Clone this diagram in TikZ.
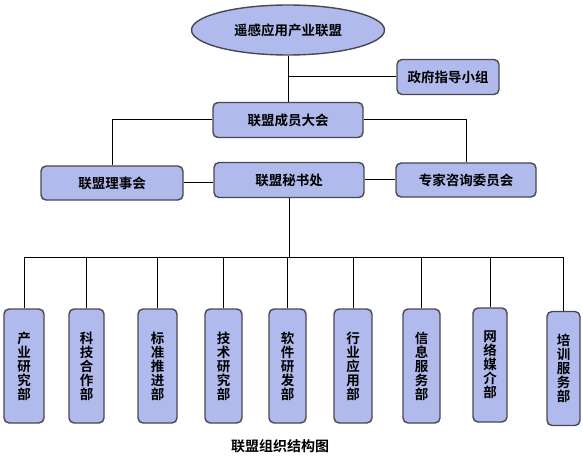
\documentclass[tikz,border=0pt]{standalone}
\usepackage{fontspec}
\newfontfamily\cjk{Noto Sans CJK SC}[BoldFont={Noto Sans CJK SC Bold}]
\usepackage{tikz}
\usetikzlibrary{shapes, arrows.meta, positioning}

\definecolor{boxfill}{RGB}{176,186,236}
\definecolor{boxline}{RGB}{72,72,80}

\tikzset{
    unitbox/.style={draw=boxline, line width=1.4pt, fill=boxfill, rectangle, rounded corners=5pt,
        font=\cjk\bfseries\fontsize{13.5}{14}\selectfont, inner sep=2pt},
    deptbox/.style={unitbox, minimum height=114pt, align=center},
    link/.style={draw=black, line width=1pt}
}

\begin{document}
\begin{tikzpicture}[x=1pt, y=-1pt]
    \useasboundingbox (0,0) rectangle (583,457);
    % top of the structure
    \node[unitbox, ellipse, rounded corners=0pt, minimum width=193pt, minimum height=50pt] (league) at (288,30) {遥感应用产业联盟};
    \node[unitbox, minimum width=102pt, minimum height=35pt] (gov) at (448,77) {政府指导小组};
    \node[unitbox, minimum width=150pt, minimum height=35pt] (assembly) at (288,120) {联盟成员大会};
    % second level
    \node[unitbox, minimum width=142pt, minimum height=34pt] (council) at (112,183) {联盟理事会};
    \node[unitbox, minimum width=150pt, minimum height=35pt] (secretariat) at (289,180) {联盟秘书处};
    \node[unitbox, minimum width=140pt, minimum height=34pt] (experts) at (466,180) {专家咨询委员会};
    \coordinate (bus) at (288,257);
    % departments
    \foreach \i/\x/\y/\w/\name in {1/24/366/40/产\\业\\研\\究\\部, 2/86.5/366/35/科\\技\\合\\作\\部,
        3/157.5/366/39/标\\准\\推\\进\\部, 4/223.5/366/37/技\\术\\研\\究\\部,
        5/287.5/366/37/软\\件\\研\\发\\部, 6/353/366/38/行\\业\\应\\用\\部,
        7/421.5/366/37/信\\息\\服\\务\\部, 8/490/365/34/网\\络\\媒\\介\\部,
        9/563.5/368.5/33/培\\训\\服\\务\\部} {
        \node[deptbox, minimum width=\w pt, text width=\w pt - 6pt] (dept\i) at (\x,\y) {\name};
        \draw[link] (dept\i.north |- bus) -- (dept\i.north);
    }
    % connectors
    \draw[link] (league) -- (assembly);
    \draw[link] (league.south |- gov.west) -- (gov.west);
    \draw[link] (assembly.west) -| (council.north);
    \draw[link] (assembly.east) -| (experts.north);
    \draw[link] (council.east) -- (council.east -| secretariat.west);
    \draw[link] (secretariat.east) -- (experts.west);
    \draw[link] (secretariat.south) -- (secretariat.south |- bus);
    \draw[link] (dept1.north |- bus) -- (dept9.north |- bus);
    % caption
    \node[font=\cjk\bfseries\fontsize{14}{14}\selectfont] (caption) at (280,446) {联盟组织结构图};
\end{tikzpicture}
\end{document}
